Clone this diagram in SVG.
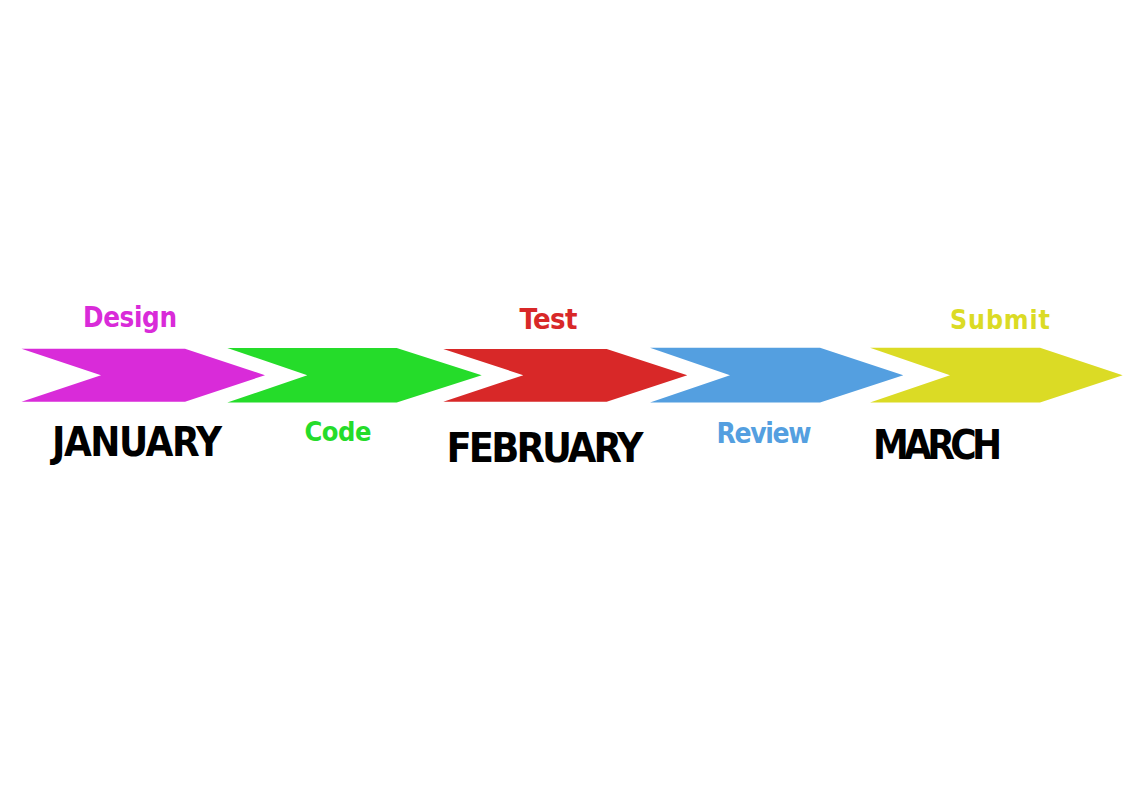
<svg xmlns="http://www.w3.org/2000/svg" width="1123" height="794" viewBox="0 0 1123 794">
<style>
.lbl,.month{font-family:"DejaVu Sans Condensed","DejaVu Sans",sans-serif;font-stretch:condensed;font-weight:700;}
.month{fill:#000;}
</style>
<rect width="1123" height="794" fill="#fff"/>
<g id="connectors"></g>
<g id="step-design">
<polygon points="21.5,348.7 185,348.7 265,375.2 185,401.7 21.5,401.7 101,375.2" fill="#d92bd9"/>
<text class="lbl" x="83" y="326.7" font-size="27.5" fill="#d92bd9" textLength="94" lengthAdjust="spacing">Design</text>
</g>
<g id="month-january">
<text class="month" x="52" y="456" font-size="40" textLength="170" lengthAdjust="spacing">JANUARY</text>
</g>
<g id="step-code">
<polygon points="227.3,348 396.7,348 481.7,375.2 396.7,402.5 227.3,402.5 307.3,375.2" fill="#25dc2a"/>
<text class="lbl" x="304.5" y="441.2" font-size="27" fill="#25dc2a" textLength="67" lengthAdjust="spacing">Code</text>
</g>
<g id="step-test">
<polygon points="443.3,349 606.7,349 687.3,375.2 606.7,401.7 443.3,401.7 523.3,375.2" fill="#d82828"/>
<text class="lbl" x="519.5" y="329.3" font-size="29" fill="#d82828" textLength="58" lengthAdjust="spacing">Test</text>
</g>
<g id="month-february">
<text class="month" x="446.5" y="461.7" font-size="41" textLength="197" lengthAdjust="spacing">FEBRUARY</text>
</g>
<g id="step-review">
<polygon points="650,347.8 820,347.8 903.3,375.2 820,402.6 650,402.6 730,375.2" fill="#549fe0"/>
<text class="lbl" x="716.5" y="443.3" font-size="28" fill="#549fe0" textLength="95" lengthAdjust="spacing">Review</text>
</g>
<g id="step-submit">
<polygon points="870,347.8 1040,347.8 1122.7,375.2 1040,402.6 870,402.6 950,375.2" fill="#dbdb25"/>
<text class="lbl" x="950" y="329.3" font-size="26.5" fill="#dbdb25" textLength="100" lengthAdjust="spacing">Submit</text>
</g>
<g id="month-march">
<text class="month" x="873" y="459.3" font-size="40" textLength="129" lengthAdjust="spacing">MARCH</text>
</g>
</svg>
